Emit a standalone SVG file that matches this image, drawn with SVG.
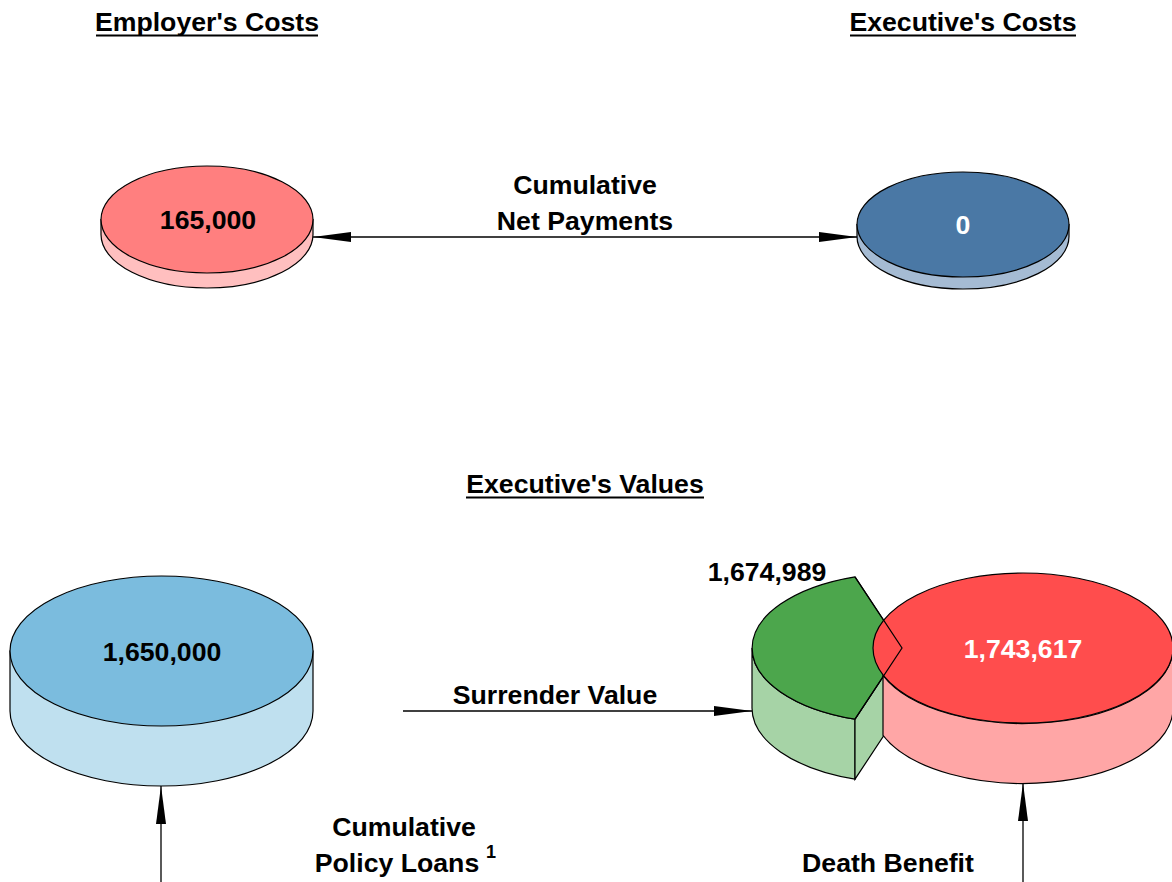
<svg xmlns="http://www.w3.org/2000/svg" width="1172" height="882" viewBox="0 0 1172 882">
<defs>
<style>
.t{font-family:"Liberation Sans",Arial,sans-serif;font-weight:bold;font-size:26.67px;text-anchor:middle;fill:#000}
.w{fill:#fff}
.s{stroke:#000;stroke-width:1.2}
.c{stroke:#000;stroke-width:1.3;fill:none}
.u{stroke:#000;stroke-width:2}
</style>
<marker id="ah" viewBox="0 0 38 10" refX="38" refY="5" markerWidth="38" markerHeight="10" markerUnits="userSpaceOnUse" orient="auto-start-reverse">
<path d="M0,0 L38,5 L0,10 Z" fill="#000"/>
</marker>
</defs>
<rect width="1172" height="882" fill="#fff"/>

<g id="headings">
<text class="t" x="207" y="31">Employer's Costs</text>
<line class="u" x1="96" y1="35.5" x2="318" y2="35.5"/>
<text class="t" x="963" y="31">Executive's Costs</text>
<line class="u" x1="850" y1="35.5" x2="1076" y2="35.5"/>
<text class="t" x="585" y="493">Executive's Values</text>
<line class="u" x1="466" y1="497.5" x2="704" y2="497.5"/>
</g>

<g id="connectors">
<line class="c" x1="313" y1="237" x2="857" y2="237" marker-start="url(#ah)" marker-end="url(#ah)"/>
<line class="c" x1="403" y1="711" x2="752" y2="711" marker-end="url(#ah)"/>
<line class="c" x1="161" y1="882" x2="161" y2="786" marker-end="url(#ah)"/>
<line class="c" x1="1023" y1="882" x2="1023" y2="783" marker-end="url(#ah)"/>
</g>

<g id="employer-costs">
<path class="s" fill="#FFBFBF" d="M101,219.5 L101,234.5 A106,53.5 0 0,0 313,234.5 L313,219.5 Z"/>
<ellipse class="s" fill="#FF7F7F" cx="207" cy="219.5" rx="106" ry="53.5"/>
<text class="t" x="208" y="229">165,000</text>
</g>

<g id="executive-costs">
<path class="s" fill="#A5BBD3" d="M857,224.5 L857,236.5 A106,52.5 0 0,0 1069,236.5 L1069,224.5 Z"/>
<ellipse class="s" fill="#4A78A5" cx="963" cy="224.5" rx="106" ry="52.5"/>
<text class="t w" x="963" y="234">0</text>
</g>

<g id="net-payments-label">
<text class="t" x="585" y="194">Cumulative</text>
<text class="t" x="585" y="230">Net Payments</text>
</g>

<g id="policy-loans-value">
<path class="s" fill="#BFE0EF" d="M10,651 L10,711 A151.5,75 0 0,0 313,711 L313,651 Z"/>
<ellipse class="s" fill="#7BBCDE" cx="161.5" cy="651" rx="151.5" ry="75"/>
<text class="t" x="162" y="661">1,650,000</text>
</g>

<g id="surrender-value">
<path class="s" fill="#A6D3A6" d="M752,648 L752,708 A150,75 0 0,0 855,779.2 L855,719.2 A150,75 0 0,1 752,648 Z"/>
<path class="s" fill="#A6D3A6" d="M902,648 L855,719.2 L855,779.2 L902,708 Z"/>
<path class="s" fill="#4CA64C" d="M902,648 L855,576.8 A150,75 0 0,0 855,719.2 Z"/>
<text class="t" x="767" y="581">1,674,989</text>
</g>

<g id="death-benefit-value">
<path class="s" fill="#FFA6A6" d="M883,675.4 A150,75 0 0,0 1173,648 L1173,708 A150,75 0 0,1 883,735.4 Z"/>
<ellipse class="s" fill="#FF4D4D" cx="1023" cy="648" rx="150" ry="75"/>
<path class="s" fill="none" d="M855,576.8 L902,648 L855,719.2"/>
<text class="t w" x="1023" y="658">1,743,617</text>
</g>

<g id="labels">
<text class="t" x="555" y="704">Surrender Value</text>
<text class="t" x="404" y="836">Cumulative</text>
<text class="t" x="397" y="872">Policy Loans</text>
<text class="t" x="491" y="858" style="font-size:18px">1</text>
<text class="t" x="888" y="872">Death Benefit</text>
</g>
</svg>
